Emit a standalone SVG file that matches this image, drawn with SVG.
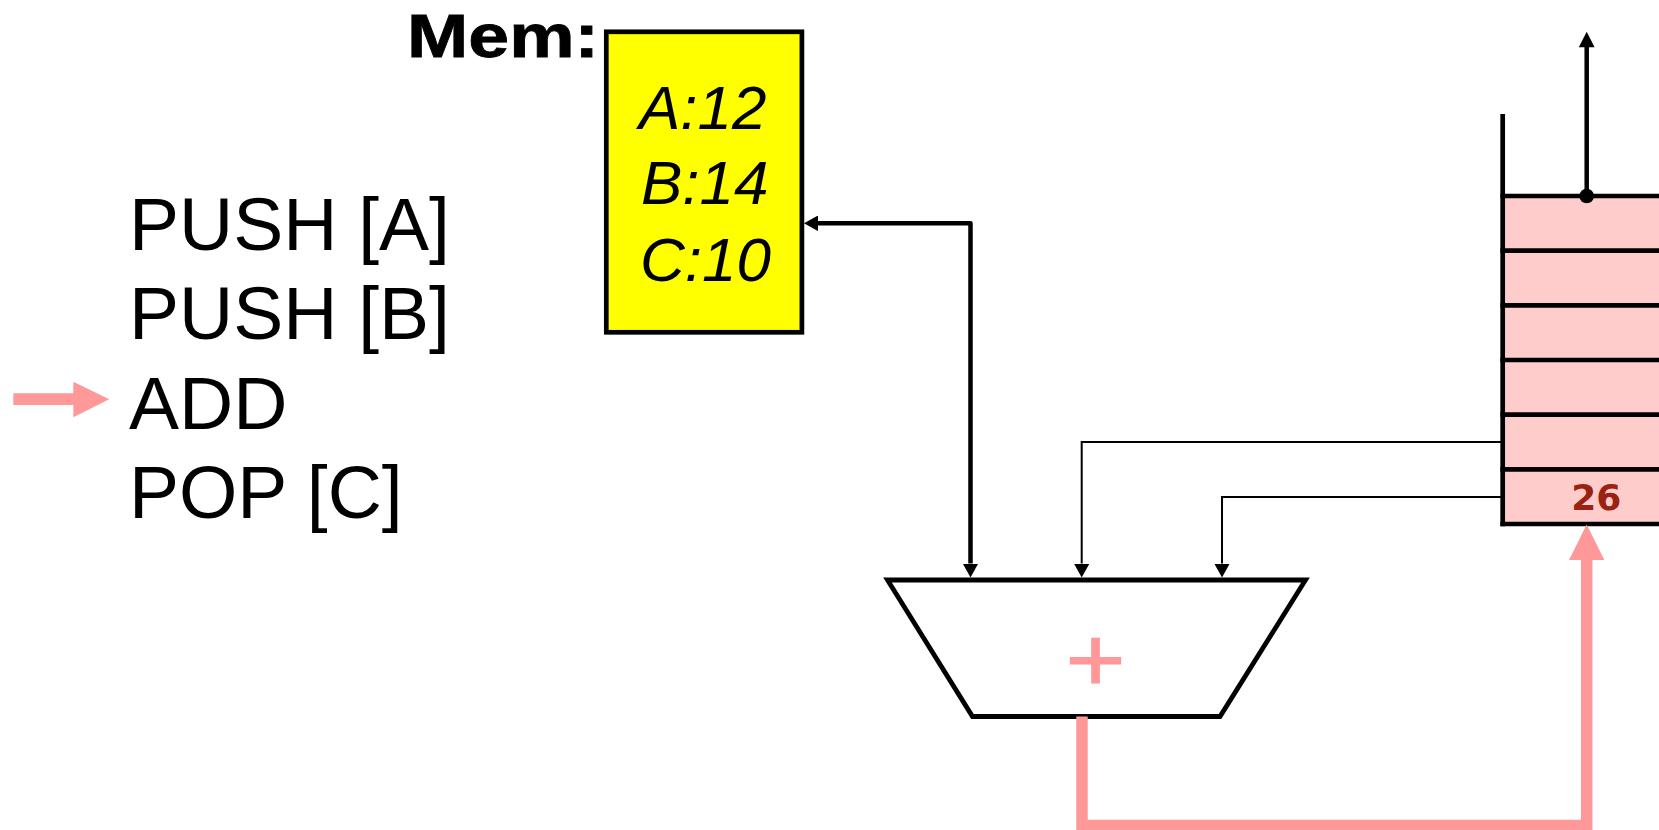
<svg xmlns="http://www.w3.org/2000/svg" width="1659" height="830" viewBox="0 0 1659 830">
  <style>
    .code { font-family: "Liberation Sans", Arial, sans-serif; font-size: 75px; fill: #000; }
    .mem { font-family: "Liberation Sans", Arial, sans-serif; font-size: 62px; font-style: italic; fill: #000; }
    .thick { fill: none; stroke: #000; stroke-width: 4.5; stroke-linejoin: round; }
    .thin { fill: none; stroke: #000; stroke-width: 2; }
    .pink { fill: none; stroke: #FF9999; stroke-width: 11.5; stroke-linejoin: miter; }
    .sline { stroke: #000; stroke-width: 4.7; }
  </style>
  <defs>
    <marker id="ah" markerUnits="userSpaceOnUse" markerWidth="14" markerHeight="15.6" viewBox="0 0 14 15.6" refX="0" refY="7.8" orient="auto-start-reverse">
      <path d="M0,0 L14,7.8 L0,15.6 z" fill="#000"/>
    </marker>
  </defs>
  <rect width="1659" height="830" fill="#fff"/>

  <g id="program">
    <text class="code" x="129" y="249.5">PUSH [A]</text>
    <text class="code" x="129" y="339.3">PUSH [B]</text>
    <text class="code" x="129" y="428.5">ADD</text>
    <text class="code" x="129" y="518.3">POP [C]</text>
  </g>

  <g id="pc-arrow">
    <polygon points="13.3,393.3 73.3,393.3 73.3,381.7 109.3,399.3 73.3,417.3 73.3,405 13.3,405" fill="#FF9999"/>
  </g>

  <g id="memory">
    <text x="407" y="56.5" font-family="'Liberation Sans', Arial, sans-serif" font-weight="bold" font-size="61.5" textLength="192" lengthAdjust="spacingAndGlyphs" stroke="#000" stroke-width="0.8">Mem:</text>
    <rect x="606.3" y="31.8" width="195.6" height="300.5" fill="#FFFF00" stroke="#000" stroke-width="4.7"/>
    <text class="mem" x="639" y="128.5">A:12</text>
    <text class="mem" x="641" y="204">B:14</text>
    <text class="mem" x="640" y="281">C:10</text>
  </g>

  <g id="stack">
    <rect x="1502.7" y="196" width="170" height="328" fill="#FFCCCC"/>
    <line class="sline" x1="1502.7" y1="114" x2="1502.7" y2="526.3"/>
    <line class="sline" x1="1500.4" y1="196" x2="1659" y2="196"/>
    <line class="sline" x1="1500.4" y1="250.7" x2="1659" y2="250.7"/>
    <line class="sline" x1="1500.4" y1="305.3" x2="1659" y2="305.3"/>
    <line class="sline" x1="1500.4" y1="360" x2="1659" y2="360"/>
    <line class="sline" x1="1500.4" y1="414.7" x2="1659" y2="414.7"/>
    <line class="sline" x1="1500.4" y1="469.3" x2="1659" y2="469.3"/>
    <line class="sline" x1="1500.4" y1="524" x2="1659" y2="524"/>
    <text x="1596.2" y="509.5" text-anchor="middle" font-family="'DejaVu Sans', Verdana, sans-serif" font-weight="bold" font-size="36" fill="#992210">26</text>
  </g>

  <g id="alu">
    <polygon points="887.5,580 1305.5,580 1220,716.5 972.5,716.5" fill="#fff" stroke="#000" stroke-width="4.8" stroke-linejoin="miter"/>
    <g transform="translate(1095.7,659.3) scale(1,0.88)">
      <text x="0" y="36.4" text-anchor="middle" font-family="'Liberation Sans', Arial, sans-serif" font-size="103" fill="#FF9999" stroke="#FF9999" stroke-width="1.3">+</text>
    </g>
  </g>

  <g id="connectors">
    <path class="thick" d="M970.5,563.5 V223.3 H818" marker-start="url(#ah)" marker-end="url(#ah)"/>
    <path class="thin" d="M1502,442 H1081.7 V563.5" marker-end="url(#ah)"/>
    <path class="thin" d="M1502,497 H1222 V563.5" marker-end="url(#ah)"/>
    <path class="thick" d="M1586.7,196 V47"/>
    <polygon points="1578.8,47.3 1594.6,47.3 1586.7,31.7" fill="#000"/>
    <circle cx="1586.7" cy="196" r="7.3" fill="#000"/>
    <path class="pink" d="M1082,716.5 V825.5 H1586.7 V559"/>
    <polygon points="1569,560 1604.4,560 1586.7,524.5" fill="#FF9999"/>
  </g>
</svg>
